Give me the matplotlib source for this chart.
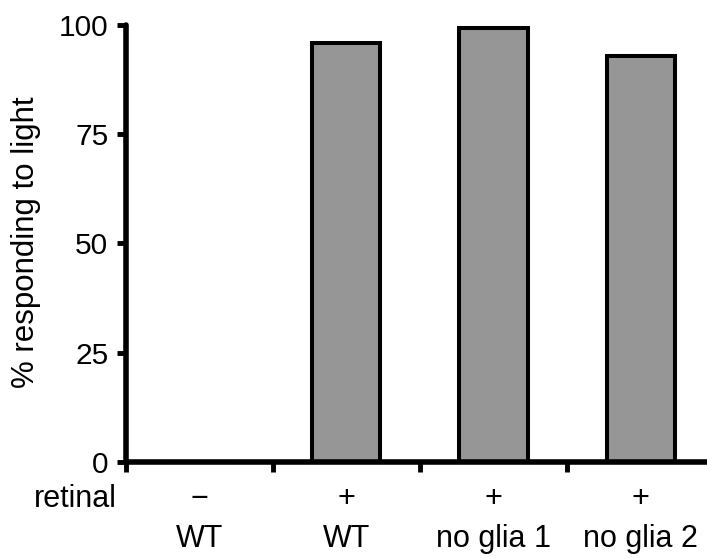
import matplotlib.pyplot as plt
import matplotlib.transforms as mtransforms

plt.rcParams['font.family'] = ['Liberation Sans', 'DejaVu Sans']

genotypes = ['WT', 'WT', 'no glia 1', 'no glia 2']
retinal = ['\u2212', '+', '+', '+']
pct_responding = [0, 96.0, 99.3, 93.0]
yticks = [0, 25, 50, 75, 100]

fig = plt.figure(figsize=(7.07, 5.59), dpi=100)
ax = fig.add_axes([0.1778, 0.174, 0.822, 0.781])

x = list(range(len(genotypes)))
ax.bar(x, pct_responding, width=0.463, color='#969696', edgecolor='black',
       linewidth=2.9, zorder=2)

ax.set_xlim(-0.5, 3.45)
ax.set_ylim(0, 100)
ax.set_yticks(yticks)
ax.set_yticklabels([str(v) for v in yticks])
ax.tick_params(axis='y', direction='out', length=6.5, width=3.5, pad=6,
               labelsize=21.5)

# ticks between the groups, no labels at centres
ax.set_xticks([-0.5, 0.5, 1.5, 2.5])
ax.set_xticklabels([])
ax.tick_params(axis='x', direction='out', length=7, width=3.5)

for side in ['top', 'right']:
    ax.spines[side].set_visible(False)
for side in ['left', 'bottom']:
    ax.spines[side].set_linewidth(4)
    ax.spines[side].set_capstyle('round')
ax.spines['bottom'].set_zorder(3)

trans = mtransforms.blended_transform_factory(ax.transData, ax.transAxes)
for i in x:
    ax.text(i, -0.104, retinal[i], transform=trans, ha='center', va='baseline',
            fontsize=22, clip_on=False)
    ax.text(i, -0.196, genotypes[i], transform=trans, ha='center', va='baseline',
            fontsize=22, clip_on=False)
fig.text(0.1655, 0.093, 'retinal', ha='right', va='baseline', fontsize=22)

ax.set_ylabel('% responding to light', fontsize=22.5)
ax.yaxis.set_label_coords(-0.146, 0.503)

fig.savefig('out.png', dpi=100)
